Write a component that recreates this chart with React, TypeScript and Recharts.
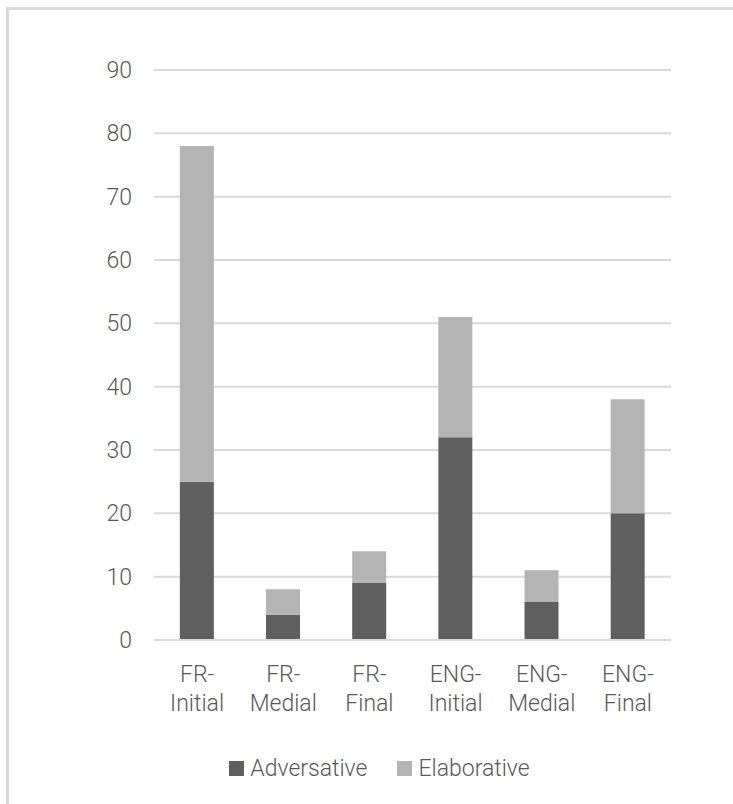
import { BarChart, Bar, XAxis, YAxis, CartesianGrid, Legend } from 'recharts';

const categories = ['FR-Initial', 'FR-Medial', 'FR-Final', 'ENG-Initial', 'ENG-Medial', 'ENG-Final'];
const adversative = [25, 4, 9, 32, 6, 20];
const elaborative = [53, 4, 5, 19, 5, 18];
const yTicks = [0, 10, 20, 30, 40, 50, 60, 70, 80, 90];

const data = categories.map((name, i) => ({
  name,
  Adversative: adversative[i],
  Elaborative: elaborative[i],
}));

const FONT = "Roboto, 'Liberation Sans', sans-serif";
const TEXT = '#595959';
const DARK = '#5f5f5f';
const LIGHT = '#b4b4b4';

// two-line category label, split after the hyphen
const CategoryTick = (props: any) => {
  const { x, y, payload } = props;
  const idx = payload.value.indexOf('-');
  const first = payload.value.slice(0, idx + 1);
  const second = payload.value.slice(idx + 1);
  return (
    <text x={x} y={y} textAnchor="middle" fill={TEXT} fontSize={23} fontFamily={FONT} fontWeight={300}>
      <tspan x={x} dy={34}>{first}</tspan>
      <tspan x={x} dy={29}>{second}</tspan>
    </text>
  );
};

const LegendContent = () => {
  const items = [
    { label: 'Adversative', color: DARK },
    { label: 'Elaborative', color: LIGHT },
  ];
  return (
    <div style={{ display: 'flex', justifyContent: 'center', fontFamily: FONT, fontSize: 23, fontWeight: 300, color: TEXT }}>
      {items.map((it) => (
        <div key={it.label} style={{ display: 'flex', alignItems: 'center', marginRight: 30 }}>
          <span style={{ display: 'inline-block', width: 15, height: 15, background: it.color, marginRight: 6 }} />
          <span>{it.label}</span>
        </div>
      ))}
    </div>
  );
};

export default function App() {
  return (
    <div style={{ position: 'absolute', left: 0, top: 0, width: 733, height: 804, background: '#fff', overflow: 'hidden' }}>
      <div
        style={{
          position: 'absolute',
          left: 6,
          top: 7,
          width: 760,
          height: 830,
          borderLeft: '3px solid #d9d9d9',
          borderTop: '3px solid #d9d9d9',
        }}
      />
      <BarChart
        width={733}
        height={804}
        data={data}
        margin={{ top: 70, right: 62, left: 0, bottom: 104 }}
        barCategoryGap="30%"
      >
        <CartesianGrid vertical={false} stroke="#d9d9d9" strokeWidth={2} />
        <XAxis
          dataKey="name"
          height={60}
          tickLine={false}
          axisLine={{ stroke: '#d9d9d9', strokeWidth: 2 }}
          tick={<CategoryTick />}
          interval={0}
        />
        <YAxis
          width={154}
          domain={[0, 90]}
          ticks={yTicks}
          tickLine={false}
          axisLine={false}
          tickMargin={16}
          tick={{ fill: TEXT, fontSize: 23, fontFamily: FONT, fontWeight: 300 }}
        />
        <Legend
          verticalAlign="middle"
          align="center"
          layout="horizontal"
          content={<LegendContent />}
          wrapperStyle={{ top: 755, left: 28, width: 733 }}
        />
        <Bar dataKey="Adversative" stackId="a" fill={DARK} isAnimationActive={false} />
        <Bar dataKey="Elaborative" stackId="a" fill={LIGHT} isAnimationActive={false} />
      </BarChart>
    </div>
  );
}
